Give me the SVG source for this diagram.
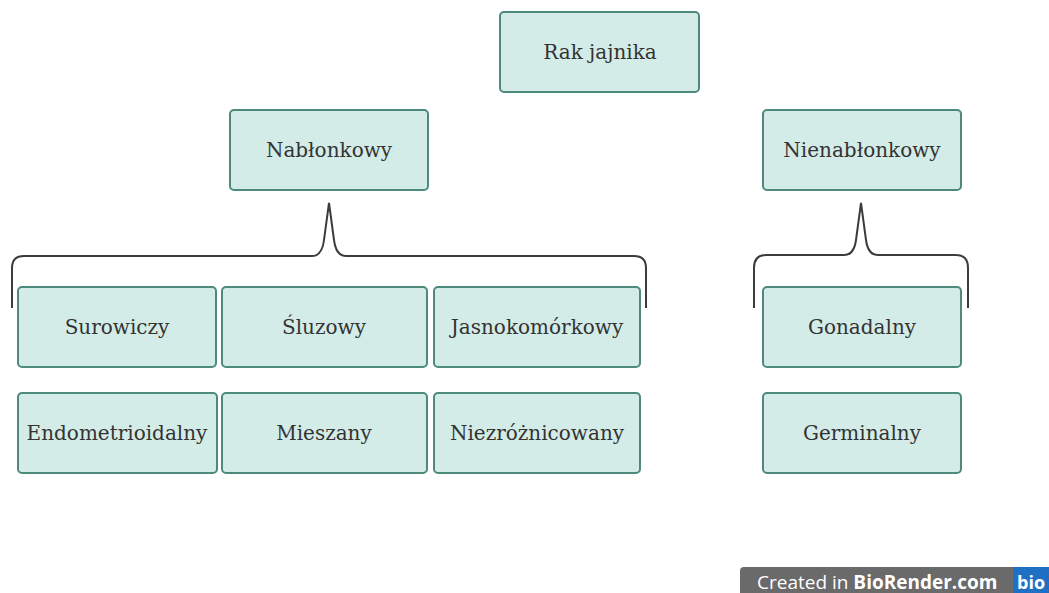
<svg xmlns="http://www.w3.org/2000/svg" width="1049" height="593" viewBox="0 0 1049 593">
<style>
.box{fill:#d4ece8;stroke:#4e8a7c;stroke-width:2}
.lbl{font-family:"DejaVu Serif","Liberation Serif",serif;font-size:20px;fill:#333;text-anchor:middle;dominant-baseline:central}
.brace{fill:none;stroke:#3c3c3c;stroke-width:2}
</style>
<rect width="1049" height="593" fill="#fff"/>
<g id="connectors">
<path class="brace" d="M12,308 V268 Q12,256 24,256 H312 Q322,256 324,240 L329,203 L334,240 Q336,256 346,256 H634 Q646,256 646,268 V308"/>
<path class="brace" d="M754,308 V268 Q754,255 766,255 H844 Q854,255 856,240 L861,203 L866,240 Q868,255 878,255 H956 Q968,255 968,268 V308"/>
</g>
<g id="rak"><rect class="box" x="500" y="12" width="199" height="80" rx="4"/><text class="lbl" x="600" y="52">Rak jajnika</text></g>
<g id="nablonkowy"><rect class="box" x="230" y="110" width="198" height="80" rx="4"/><text class="lbl" x="329" y="150">Nabłonkowy</text></g>
<g id="nienablonkowy"><rect class="box" x="763" y="110" width="198" height="80" rx="4"/><text class="lbl" x="862" y="150">Nienabłonkowy</text></g>
<g id="surowiczy"><rect class="box" x="18" y="287" width="198" height="80" rx="4"/><text class="lbl" x="117" y="327">Surowiczy</text></g>
<g id="sluzowy"><rect class="box" x="222" y="287" width="205" height="80" rx="4"/><text class="lbl" x="324" y="327">Śluzowy</text></g>
<g id="jasnokomorkowy"><rect class="box" x="434" y="287" width="206" height="80" rx="4"/><text class="lbl" x="537" y="327">Jasnokomórkowy</text></g>
<g id="gonadalny"><rect class="box" x="763" y="287" width="198" height="80" rx="4"/><text class="lbl" x="862" y="327">Gonadalny</text></g>
<g id="endometrioidalny"><rect class="box" x="18" y="393" width="199" height="80" rx="4"/><text class="lbl" x="117" y="433">Endometrioidalny</text></g>
<g id="mieszany"><rect class="box" x="222" y="393" width="205" height="80" rx="4"/><text class="lbl" x="324" y="433">Mieszany</text></g>
<g id="niezroznicowany"><rect class="box" x="434" y="393" width="206" height="80" rx="4"/><text class="lbl" x="537" y="433">Niezróżnicowany</text></g>
<g id="germinalny"><rect class="box" x="763" y="393" width="198" height="80" rx="4"/><text class="lbl" x="862" y="433">Germinalny</text></g>
<g id="watermark">
<rect x="740" y="567" width="320" height="30" rx="4" fill="#6a6a6a"/>
<rect x="1013" y="567" width="40" height="30" fill="#1f6fc5"/>
<text x="757" y="589" font-family="'Open Sans',sans-serif" font-size="19" fill="#fff">Created in <tspan font-weight="bold">BioRender.com</tspan></text>
<text x="1017" y="589" font-family="'Open Sans',sans-serif" font-size="18" font-weight="bold" fill="#fff">bio</text>
</g>
</svg>
